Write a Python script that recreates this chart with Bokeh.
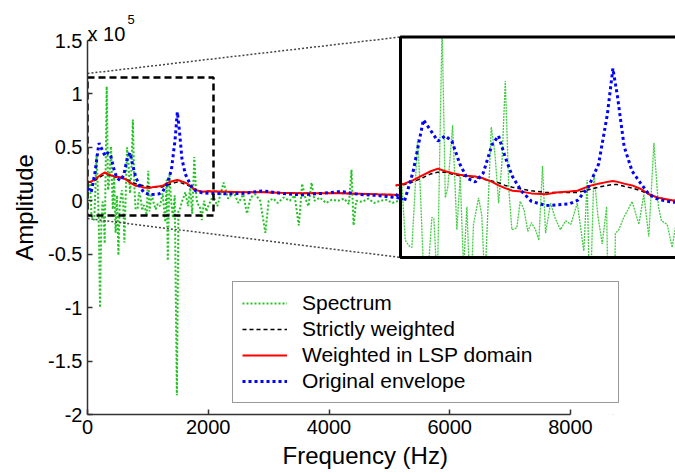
import numpy as np
from bokeh.plotting import figure
from bokeh.models import Range1d, FixedTicker, Legend, LegendItem, Label, Title
from bokeh.embed import file_html
from bokeh.resources import INLINE

# ---------------- data (amplitude in units of 1e5) ----------------
spec_freq = [0, 20, 42, 66, 90, 111, 130, 150, 168, 190, 207, 228, 248, 262, 285, 318, 340, 357, 390,
             419, 442, 465, 488, 512, 533, 568, 590, 611, 655, 680, 705, 728, 751, 775, 796, 830, 853,
             880, 905, 930, 958, 981, 1006, 1027, 1061, 1095, 1129, 1164, 1200, 1244, 1289, 1312, 1330,
             1358, 1385, 1415, 1445, 1480, 1505, 1529, 1563, 1590, 1620, 1666, 1700, 1734, 1769, 1800,
             1821, 1860, 1894, 1930, 1970, 2000, 2080, 2150, 2254, 2330, 2420, 2500, 2580, 2642, 2700,
             2780, 2860, 2946, 3000, 3080, 3150, 3250, 3350, 3430, 3500, 3555, 3610, 3660, 3710, 3760,
             3850, 3950, 4050, 4150, 4250, 4330, 4373, 4407, 4450, 4550, 4650, 4750, 4850, 4950, 5050,
             5150, 5300, 5600, 6000, 6500, 7000, 7500, 8000]
spec_val = [0.02, 0.15, 0.18, -0.14, -0.17, -0.18, 0.10, 0.43, 0.16, -0.30, -1.00, -0.25, -0.01, -0.02,
            -0.40, 1.07, 0.10, 0.16, 0.51, -0.08, 0.22, -0.30, 0.05, -0.51, -0.05, 0.10, 0.00, -0.39,
            0.50, 0.35, 0.07, 0.30, 0.76, 0.15, -0.08, -0.07, 0.08, 0.03, -0.09, -0.04, -0.08, -0.14,
            0.28, -0.10, 0.07, -0.02, -0.08, -0.03, -0.05, 0.07, -0.20, 0.20, -0.56, 0.24, 0.00, -0.16,
            0.05, -1.82, -0.10, -0.08, -0.01, 0.03, 0.08, -0.05, 0.12, -0.12, 0.41, 0.05, -0.03, -0.05,
            -0.18, 0.00, -0.10, -0.05, 0.05, -0.05, 0.17, 0.02, 0.08, -0.02, 0.06, -0.12, 0.03, 0.06,
            0.00, -0.30, 0.00, 0.02, -0.02, 0.03, 0.00, 0.05, -0.23, 0.16, 0.02, -0.05, 0.17, 0.00,
            0.03, -0.02, 0.01, 0.00, 0.02, -0.03, 0.29, -0.23, 0.00, -0.01, 0.02, -0.02, 0.00, 0.01,
            -0.02, 0.00, 0.01, -0.01, 0.01, 0.00, 0.01, -0.01, 0.00]

env_freq = [0, 60, 120, 190, 240, 290, 340, 385, 440, 490, 545, 600, 660, 705, 750, 800, 860, 930,
            1030, 1100, 1190, 1245, 1320, 1390, 1450, 1488, 1520, 1565, 1620, 1680, 1735, 1800, 1900,
            2000, 2300, 2600, 2900, 3200, 3550, 3900, 4200, 4500, 4800, 5200, 5600, 6000, 6500, 7000,
            7500, 8000]
original_envelope = [0.12, 0.08, 0.25, 0.54, 0.48, 0.42, 0.45, 0.42, 0.29, 0.21, 0.19, 0.24, 0.40, 0.45,
                     0.33, 0.22, 0.14, 0.08, 0.056, 0.06, 0.066, 0.085, 0.16, 0.29, 0.57, 0.83, 0.67,
                     0.39, 0.25, 0.18, 0.12, 0.09, 0.075, 0.07, 0.065, 0.07, 0.093, 0.07, 0.055, 0.07,
                     0.087, 0.06, 0.05, 0.025, 0.04, 0.03, 0.035, 0.025, 0.02, 0.015]
lsp_weighted = [0.17, 0.18, 0.20, 0.23, 0.25, 0.265, 0.25, 0.24, 0.23, 0.225, 0.22, 0.21, 0.19, 0.17,
                0.155, 0.14, 0.135, 0.125, 0.12, 0.13, 0.135, 0.14, 0.165, 0.18, 0.19, 0.195, 0.19,
                0.18, 0.17, 0.15, 0.12, 0.10, 0.085, 0.09, 0.085, 0.08, 0.08, 0.075, 0.07, 0.07, 0.07,
                0.065, 0.06, 0.055, 0.05, 0.05, 0.045, 0.04, 0.035, 0.03]
strict_weighted = [0.17, 0.175, 0.19, 0.215, 0.235, 0.245, 0.245, 0.235, 0.225, 0.22, 0.215, 0.205,
                   0.195, 0.185, 0.17, 0.16, 0.15, 0.14, 0.13, 0.13, 0.13, 0.13, 0.145, 0.16, 0.17,
                   0.175, 0.175, 0.165, 0.155, 0.14, 0.12, 0.10, 0.085, 0.09, 0.085, 0.08, 0.08, 0.075,
                   0.07, 0.07, 0.07, 0.065, 0.06, 0.055, 0.05, 0.05, 0.045, 0.04, 0.035, 0.03]

x_ticks = [0, 2000, 4000, 6000, 8000]
x_tick_labels = ["0", "2000", "4000", "6000", "8000"]
y_ticks = [-2, -1.5, -1, -0.5, 0, 0.5, 1, 1.5]
y_tick_labels = ["-2", "-1.5", "-1", "-0.5", "0", "0.5", "1", "1.5"]
legend_labels = ["Spectrum", "Strictly weighted", "Weighted in LSP domain", "Original envelope"]

# inset (zoomed) view ranges
inset_x = (33, 1917)
inset_y = (-0.237, 1.008)

# ---------------- layout helpers ----------------
W, H = 675, 473
FL, FR, FT, FB = 87, 675, 0, 414          # frame edges in pixels
px_per_hz = (570 - 87) / 8000.0
x_end = (FR - FL) / px_per_hz
px_per_unit = (414 - 40) / 3.5
y_start = -2.0
y_end = 1.5 + (40 - FT) / px_per_unit


def X(px):
    return (px - FL) / px_per_hz


def Y(py):
    return y_start + (FB - py) / px_per_unit


GREEN = "#22c322"
BLUE = "#0000ff"
RED = "#ff0000"
FONT = "Liberation Sans"

p = figure(width=W, height=H, x_range=Range1d(0, x_end), y_range=Range1d(y_start, y_end),
           output_backend="svg", toolbar_location=None,
           min_border_left=FL, min_border_right=0, min_border_top=FT, min_border_bottom=H - FB)
p.grid.visible = False
p.outline_line_color = None
p.background_fill_color = "white"
p.border_fill_color = "white"

for ax in (p.xaxis, p.yaxis):
    ax.axis_line_color = "#333333"
    ax.axis_line_width = 1.5
    ax.major_tick_line_color = "#333333"
    ax.major_tick_line_width = 1.5
    ax.major_tick_in = 5
    ax.major_tick_out = 0
    ax.minor_tick_in = 0
    ax.minor_tick_out = 0
    ax.major_label_text_font = FONT
    ax.major_label_text_font_size = "20px"
    ax.major_label_text_color = "black"

p.xaxis.ticker = FixedTicker(ticks=x_ticks)
p.xaxis.major_label_overrides = dict(zip(x_ticks, x_tick_labels))
p.xaxis.bounds = (0, 8000)
p.xaxis.major_label_standoff = 5
p.yaxis.ticker = FixedTicker(ticks=y_ticks)
p.yaxis.major_label_overrides = dict(zip(y_ticks, y_tick_labels))
p.yaxis.bounds = (-2, 1.5)
p.yaxis.major_label_standoff = 5
p.yaxis.axis_label = "Amplitude"
p.yaxis.axis_label_text_font = FONT
p.yaxis.axis_label_text_font_size = "24px"
p.yaxis.axis_label_text_font_style = "normal"
p.yaxis.axis_label_text_color = "black"
p.yaxis.axis_label_standoff = 7

# ---------------- main curves ----------------
r_spec = p.line(spec_freq, spec_val, line_color=GREEN, line_width=2, line_dash="2 2")
r_strict = p.line(env_freq, strict_weighted, line_color="black", line_width=1.5, line_dash="4 3")
r_lsp = p.line(env_freq, lsp_weighted, line_color=RED, line_width=2)
r_orig = p.line(env_freq, original_envelope, line_color=BLUE, line_width=3, line_dash="3 3")

# zoom box and connectors
p.quad(left=X(87), right=X(213), bottom=Y(215), top=Y(77), fill_color=None,
       line_color="black", line_width=2.5, line_dash="7 4")
p.line([X(87), X(400)], [Y(73), Y(36.5)], line_color="#444444", line_width=1.5, line_dash="2 2")
p.line([X(87), X(400)], [Y(218), Y(257)], line_color="#444444", line_width=1.5, line_dash="2 2")

# ---------------- inset ----------------
p.quad(left=X(400), right=X(700), bottom=Y(257), top=Y(36.5), fill_color="white", line_color=None)
sub = p.subplot(x_source=Range1d(*inset_x), y_source=Range1d(*inset_y),
                x_target=Range1d(X(400), X(675)), y_target=Range1d(Y(257), Y(36.5)))


def window(f, v, lo, hi):
    f = np.asarray(f, dtype=float)
    v = np.asarray(v, dtype=float)
    idx = np.where((f >= lo) & (f <= hi))[0]
    i0 = max(idx[0] - 1, 0)
    i1 = min(idx[-1] + 1, len(f) - 1)
    return f[i0:i1 + 1], v[i0:i1 + 1]


fs, vs = window(spec_freq, spec_val, *inset_x)
sub.line(fs, vs, line_color=GREEN, line_width=1.3, line_dash="2 1", line_alpha=0.85)
fe, ve = window(env_freq, strict_weighted, *inset_x)
sub.line(fe, ve, line_color="black", line_width=1.5, line_dash="4 3")
fe, ve = window(env_freq, lsp_weighted, *inset_x)
sub.line(fe, ve, line_color=RED, line_width=2)
fe, ve = window(env_freq, original_envelope, *inset_x)
sub.line(fe, ve, line_color=BLUE, line_width=3, line_dash="3 3")

# mask the inset's overflow above and below its frame, then draw its border
p.quad(left=X(400), right=X(700), bottom=Y(440), top=Y(257), fill_color="white", line_color=None)
p.quad(left=X(400), right=X(700), bottom=Y(36.5), top=Y(-20), fill_color="white", line_color=None)
p.quad(left=X(400), right=X(690), bottom=Y(257), top=Y(36.5), fill_color=None,
       line_color="black", line_width=3)

# ---------------- legend ----------------
legend = Legend(items=[LegendItem(label=legend_labels[0], renderers=[r_spec]),
                       LegendItem(label=legend_labels[1], renderers=[r_strict]),
                       LegendItem(label=legend_labels[2], renderers=[r_lsp]),
                       LegendItem(label=legend_labels[3], renderers=[r_orig])],
                location=(232 - FL, FB - 403))
legend.border_line_color = "#333333"
legend.border_line_width = 1.2
legend.background_fill_color = "white"
legend.background_fill_alpha = 1.0
legend.label_text_font = FONT
legend.label_text_font_size = "21px"
legend.label_text_color = "black"
legend.glyph_width = 45
legend.glyph_height = 20
legend.label_height = 24
legend.label_width = 307
legend.label_standoff = 15
legend.spacing = 2
legend.padding = 9
legend.margin = 0
p.add_layout(legend)

# ---------------- text labels ----------------
p.add_layout(Title(text="Frequency (Hz)", align="left", offset=282 - FL, text_font=FONT,
                   text_font_size="24px", text_font_style="normal", text_color="black",
                   standoff=6), "below")
p.add_layout(Label(x=X(87), y=Y(33), text="x 10", text_align="left", text_color="black",
                   text_baseline="alphabetic", text_font=FONT, text_font_size="20px"))
p.add_layout(Label(x=X(127), y=Y(19), text="5", text_align="left", text_color="black",
                   text_baseline="alphabetic", text_font=FONT, text_font_size="13px"))

open("out.html", "w").write(file_html(p, INLINE))
